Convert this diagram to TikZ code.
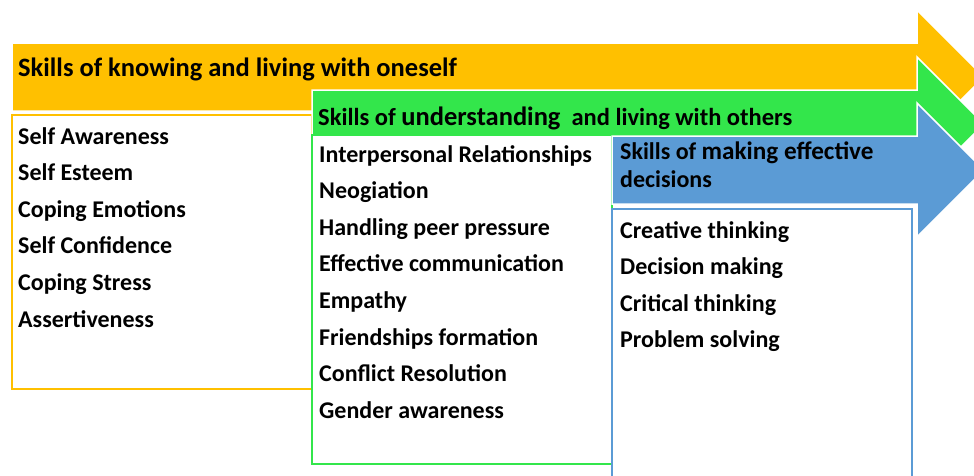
\documentclass[tikz,border=0pt]{standalone}
\usepackage{fontspec}
\setmainfont{Carlito}
\definecolor{skorange}{HTML}{FFC000}
\definecolor{skgreen}{HTML}{33E64B}
\definecolor{skblue}{HTML}{5B9BD5}
\begin{document}
\begin{tikzpicture}[x=1pt,y=-1pt,
  bigarrow/.style={fill=#1,draw=white,line width=1.5pt,line join=miter},
  listbox/.style={fill=white,draw=#1,line width=2pt},
  head/.style={anchor=base west,inner sep=0pt,font=\bfseries\fontsize{24}{28}\selectfont},
  item/.style={anchor=base west,inner sep=0pt,font=\bfseries\fontsize{24}{28}\selectfont}]
\useasboundingbox (0,0) rectangle (974,475);
\clip (0,0) rectangle (974,475);

% first band: knowing oneself
\draw[bigarrow=skorange] (12,43) -- (917,43) -- (917,10) -- (984,77) -- (917,144) -- (917,111) -- (12,111) -- cycle;
\draw[listbox=skorange] (12,115) rectangle (312,389);
\node[head,font=\bfseries\fontsize{26.5}{30}\selectfont] (h1) at (18,76) {Skills of knowing and living with oneself};
\foreach \t [count=\i] in {Self Awareness,Self Esteem,Coping Emotions,Self Confidence,Coping Stress,Assertiveness}
  \node[item] (o\i) at (18,{144+36.6*(\i-1)}) {\t};

% second band: living with others
\draw[bigarrow=skgreen] (312,90) -- (917,90) -- (917,57) -- (984,124) -- (917,191) -- (917,158) -- (312,158) -- cycle;
\draw[listbox=skgreen] (312,135) rectangle (612,464);
\node[head,font=\bfseries\fontsize{24.5}{28}\selectfont] (h2) at (318,125) {Skills of {\fontsize{26.5}{30}\selectfont understanding} \ and living with others};
\foreach \t [count=\i] in {Interpersonal Relationships,Neogiation,Handling peer pressure,Effective communication,Empathy,Friendships formation,Conflict Resolution,Gender awareness}
  \node[item] (g\i) at (319,{162+36.6*(\i-1)}) {\t};

% third band: effective decisions
\draw[bigarrow=skblue] (612,136) -- (917,136) -- (917,103) -- (984,170) -- (917,237) -- (917,204) -- (612,204) -- cycle;
\draw[listbox=skblue] (612,209) rectangle (912,490);
\node[head] (h3a) at (620,159) {Skills of {\fontsize{25.2}{29}\selectfont making effective}};
\node[head] (h3b) at (620,187) {decisions};
\foreach \t [count=\i] in {Creative thinking,Decision making,Critical thinking,Problem solving}
  \node[item] (b\i) at (620,{238+36.6*(\i-1)}) {\t};
\end{tikzpicture}
\end{document}
